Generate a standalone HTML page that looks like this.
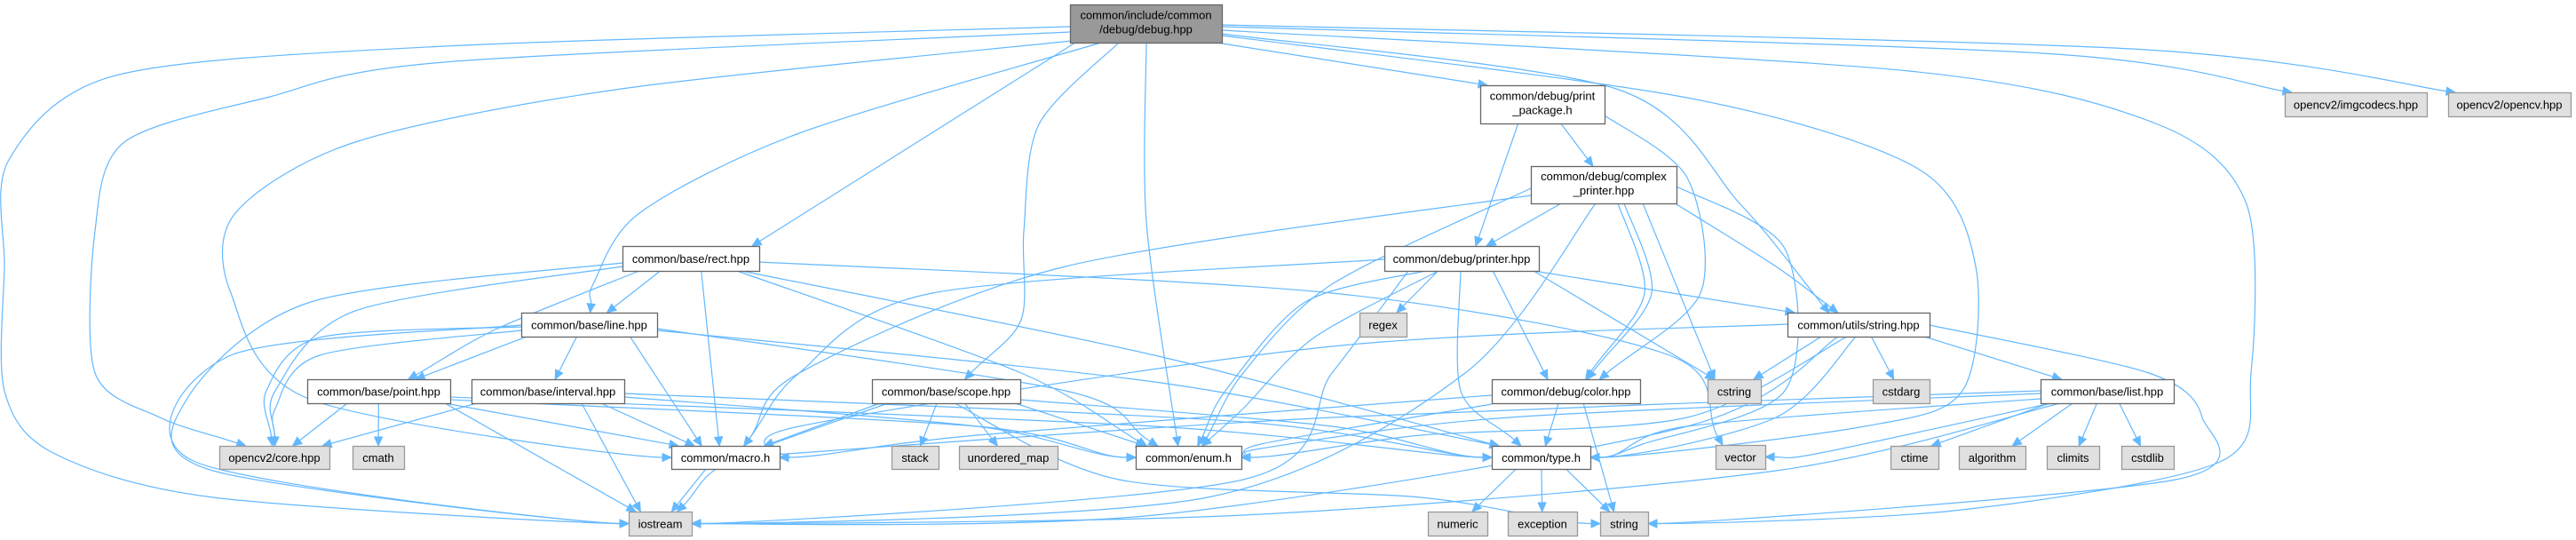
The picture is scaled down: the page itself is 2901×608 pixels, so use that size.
<!DOCTYPE html>
<html><head><meta charset="utf-8">
<style>
html,body{margin:0;padding:0;background:#fff;}
svg{display:block;}
text{font-family:"Liberation Sans",sans-serif;font-size:13px;fill:#000;}
</style></head>
<body>
<svg id="g" width="2901" height="608" viewBox="0 0 2901 608" xmlns="http://www.w3.org/2000/svg">
<g id="edges" fill="none" stroke="#63b8ff" stroke-width="1.2"></g>
<g id="heads" fill="#63b8ff" stroke="#63b8ff" stroke-width="1"></g>
<g id="nodes"></g>
</svg>
<script>
var N={
 debug:[1205,5,1376,48,["common/include/common","/debug/debug.hpp"],2],
 pkg:[1667,96,1807,139,["common/debug/print","_package.h"],0],
 cplx:[1724,187,1888,229,["common/debug/complex","_printer.hpp"],0],
 printer:[1559,277,1733,305,["common/debug/printer.hpp"],0],
 rect:[701,277,855,305,["common/base/rect.hpp"],0],
 sthpp:[2013,352,2173,379,["common/utils/string.hpp"],0],
 line:[587,352,740,379,["common/base/line.hpp"],0],
 regex:[1531,352,1584,379,["regex"],1],
 point:[346,427,507,454,["common/base/point.hpp"],0],
 interval:[531,427,703,454,["common/base/interval.hpp"],0],
 scope:[982,427,1149,454,["common/base/scope.hpp"],0],
 color:[1680,427,1847,454,["common/debug/color.hpp"],0],
 cstring:[1923,427,1983,454,["cstring"],1],
 cstdarg:[2109,427,2173,454,["cstdarg"],1],
 list:[2298,427,2448,454,["common/base/list.hpp"],0],
 core:[247,502,371,528,["opencv2/core.hpp"],1],
 cmath:[397,502,455,528,["cmath"],1],
 macro:[756,502,878,528,["common/macro.h"],0],
 stack:[1004,502,1057,528,["stack"],1],
 umap:[1080,502,1191,528,["unordered_map"],1],
 enumh:[1279,502,1398,528,["common/enum.h"],0],
 typeh:[1680,502,1791,528,["common/type.h"],0],
 vector:[1932,501,1988,528,["vector"],1],
 ctime:[2129,502,2183,528,["ctime"],1],
 algo:[2206,502,2281,528,["algorithm"],1],
 climits:[2305,502,2364,528,["climits"],1],
 cstdlib:[2389,502,2448,528,["cstdlib"],1],
 iostream:[708,576,779,603,["iostream"],1],
 numeric:[1608,576,1675,603,["numeric"],1],
 exception:[1698,576,1776,603,["exception"],1],
 string:[1802,576,1856,603,["string"],1],
 imgc:[2573,104,2733,131,["opencv2/imgcodecs.hpp"],1],
 ocv:[2757,104,2895,131,["opencv2/opencv.hpp"],1]
};
var NS="http://www.w3.org/2000/svg";
function el(t,a,p){var e=document.createElementNS(NS,t);for(var k in a)e.setAttribute(k,a[k]);p.appendChild(e);return e;}
var E=[
 ['debug','iostream',[[1205,30],[500,52],[130,85],[10,180],[5,300],[5,440],[60,510],[240,560]],'l'],
 ['debug','core',[[1205,36],[500,70],[300,110],[140,160],[107,260],[107,420],[180,470]]],
 ['debug','macro',[[1207,46],[700,100],[400,160],[265,240],[260,330],[350,450]],'l'],
 ['debug','rect'],['debug','line',[[1240,48],[900,150],[720,240],[668,320]]],
 ['debug','scope',[[1260,48],[1170,140],[1153,260],[1150,360]]],
 ['debug','enumh',[[1291,48],[1291,250]]],
 ['debug','pkg'],
 ['debug','typeh',[[1376,40],[1900,110],[2160,190],[2225,300],[2210,440],[2100,480]],'r'],
 ['debug','sthpp',[[1376,38],[1820,100],[1960,230]]],
 ['debug','string',[[1376,34],[2150,80],[2430,140],[2530,230],[2535,420],[2500,520],[2200,575]],'r'],
 ['debug','imgc',[[1376,30],[2300,60]]],
 ['debug','ocv',[[1376,28],[2400,55]]],
 ['pkg','cplx'],['pkg','printer'],['pkg','color',[[1807,130],[1900,200],[1915,330]]],
 ['cplx','printer'],['cplx','macro',[[1724,220],[1200,300],[900,420]]],
 ['cplx','enumh',[[1724,212],[1500,320],[1400,420]]],
 ['cplx','iostream',[[1797,229],[1650,420],[1360,560]],'r'],
 ['cplx','color',[[1822,229],[1852,330]]],['cplx','color',[[1829,229],[1860,330]]],
 ['cplx','cstring'],['cplx','sthpp',[[1888,230],[2000,300]]],
 ['cplx','typeh',[[1888,210],[2010,280],[2010,440],[1850,500]],'r'],
 ['printer','regex'],['printer','macro',[[1559,292],[1050,330],[900,420]]],
 ['printer','enumh',[[1620,305],[1480,380],[1400,460]]],['printer','enumh',[[1605,305],[1470,340],[1380,440]]],
 ['printer','iostream',[[1586,305],[1500,420],[1400,540]],'r'],
 ['printer','color'],['printer','typeh',[[1645,305],[1645,440]]],
 ['printer','cstring'],['printer','sthpp'],
 ['rect','line'],['rect','point',[[720,305],[560,370]]],['rect','macro'],
 ['rect','enumh',[[830,305],[1150,420]]],['rect','typeh',[[835,305],[1300,400]]],
 ['rect','core',[[701,300],[400,350],[310,440]]],
 ['rect','iostream',[[701,296],[350,340],[210,450],[240,530]],'l'],
 ['rect','vector',[[855,295],[1500,330],[1880,400]]],
 ['line','point'],['line','interval'],['line','macro'],
 ['line','enumh',[[740,370],[1200,440]]],['line','typeh',[[740,372],[1300,430]]],
 ['line','core',[[587,368],[360,380],[300,440]]],['line','core',[[587,372],[360,400],[310,460]]],
 ['line','iostream',[[587,366],[260,400],[220,520]],'l'],
 ['point','core'],['point','cmath'],['point','macro'],['point','iostream'],
 ['point','enumh',[[507,450],[1100,480]],'l'],['point','typeh',[[507,447],[1300,480]],'l'],
 ['interval','core'],['interval','macro'],['interval','iostream'],
 ['interval','enumh',[[703,447],[1100,480]],'l'],['interval','typeh',[[703,443],[1400,475]],'l'],
 ['scope','stack'],['scope','umap'],['scope','enumh'],['scope','macro'],
 ['scope','iostream',[[1000,454],[820,520]]],
 ['scope','string',[[1075,454],[1260,540],[1600,560]],'l'],
 ['scope','typeh',[[1149,450],[1500,480]],'l'],
 ['color','enumh',[[1680,455],[1420,500]],'r'],['color','macro',[[1680,445],[1100,490]],'r'],
 ['color','typeh'],['color','string'],
 ['sthpp','cstring'],['sthpp','cstdarg'],['sthpp','list'],
 ['sthpp','macro',[[2013,365],[1500,390],[900,480]],'r'],
 ['sthpp','enumh',[[2080,379],[1900,470],[1600,490]],'r'],
 ['sthpp','typeh',[[2090,379],[2000,470]],'r'],
 ['sthpp','string',[[2173,366],[2420,420],[2480,470],[2450,540]],'r'],
 ['sthpp','iostream',[[2070,379],[1900,480],[1300,580]],'r'],
 ['list','ctime'],['list','algo'],['list','climits'],['list','cstdlib'],
 ['list','enumh',[[2298,443],[1700,470],[1420,505]],'r'],
 ['list','typeh',[[2298,449],[1900,480]],'r'],
 ['list','macro',[[2298,440],[1500,470],[900,510]],'r'],
 ['list','vector',[[2310,454],[2050,510]],'r'],
 ['list','iostream',[[2320,454],[2000,530],[1400,580]],'r'],
 ['macro','iostream'],
 ['typeh','numeric'],['typeh','exception'],['typeh','string']
];
function tgt(n,side,from){
 var b=N[n];var cx=(b[0]+b[2])/2,cy=(b[1]+b[3])/2;
 if(side==='l')return [b[0],cy];
 if(side==='r')return [b[2],cy];
 var x=Math.max(b[0]+8,Math.min(b[2]-8,cx+(from[0]-cx)*0.25));
 return [x,b[1]];
}
function src(n,to){
 var b=N[n];var cx=(b[0]+b[2])/2;
 var x=Math.max(b[0]+6,Math.min(b[2]-6,cx+(to[0]-cx)*0.3));
 if(to[1]<b[1]+5) return [to[0]>cx?b[2]:b[0],(b[1]+b[3])/2];
 return [x,b[3]];
}
var eg=document.getElementById('edges'),hg=document.getElementById('heads');
E.forEach(function(e){
 var w=e[2],pts;
 var tb=N[e[1]];var tc=[(tb[0]+tb[2])/2,tb[1]];
 if(w){pts=w.slice();} else {pts=[src(e[0],tc)];}
 var last=pts[pts.length-1];
 var t=tgt(e[1],e[3],last);
 var dx=t[0]-last[0],dy=t[1]-last[1],L=Math.hypot(dx,dy)||1;
 var ux=dx/L,uy=dy/L;
 if(e[3]==='l'){ux=1;uy=0;} if(e[3]==='r'){ux=-1;uy=0;}
 var end=[t[0]-ux*10,t[1]-uy*10];
 pts.push(end);
 var d='M'+pts[0][0]+','+pts[0][1];
 if(pts.length==2){
  d+=' L'+pts[1][0]+','+pts[1][1];
 } else {
  for(var i=0;i<pts.length-1;i++){
   var p0=pts[Math.max(0,i-1)],p1=pts[i],p2=pts[i+1],p3=pts[Math.min(pts.length-1,i+2)];
   var c1=[p1[0]+(p2[0]-p0[0])/7,p1[1]+(p2[1]-p0[1])/7];
   var c2=[p2[0]-(p3[0]-p1[0])/7,p2[1]-(p3[1]-p1[1])/7];
   if(i==pts.length-2){var s=Math.min(40,Math.hypot(p2[0]-p1[0],p2[1]-p1[1])/3);c2=[p2[0]-ux*s,p2[1]-uy*s];}
   d+=' C'+c1[0].toFixed(1)+','+c1[1].toFixed(1)+' '+c2[0].toFixed(1)+','+c2[1].toFixed(1)+' '+p2[0].toFixed(1)+','+p2[1].toFixed(1);
  }
 }
 el('path',{d:d},eg);
 var px=-uy,py=ux;
 el('polygon',{points:t[0]+','+t[1]+' '+(end[0]+px*4.5)+','+(end[1]+py*4.5)+' '+(end[0]-px*4.5)+','+(end[1]-py*4.5)},hg);
});
var ng=document.getElementById('nodes');
for(var k in N){
 var b=N[k];var fill=b[5]==2?'#999999':(b[5]==1?'#e0e0e0':'#ffffff');
 var st=b[5]==1?'#999999':'#666666';
 el('rect',{x:b[0]+0.5,y:b[1]+0.5,width:b[2]-b[0],height:b[3]-b[1],fill:fill,stroke:st,'stroke-width':1.3},ng);
 var lines=b[4],cx=(b[0]+b[2])/2,h=b[3]-b[1];
 lines.forEach(function(s,i){
  var y=lines.length==1?(b[1]+h/2+5):(b[1]+h/2-2+i*16-3);
  var t=el('text',{x:cx,y:y,'text-anchor':'middle'},ng);t.textContent=s;
 });
}
</script>
</body></html>
